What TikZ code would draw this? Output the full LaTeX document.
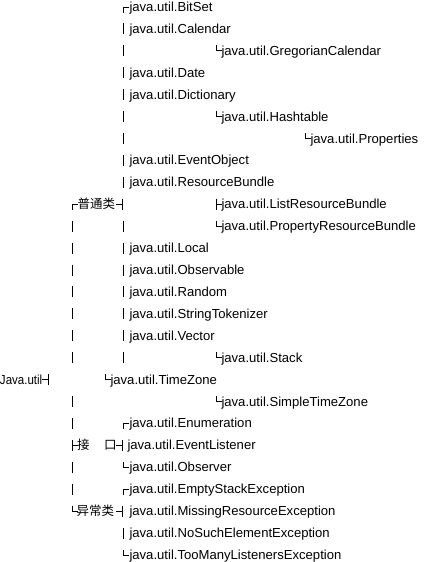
\documentclass[tikz,border=0pt]{standalone}
\usepackage{fontspec}
\setmainfont{Liberation Sans}
\newfontfamily\cjkfont{Noto Sans CJK SC}
\newcommand\jtxt[4]{\node[lbl] (#1) at (#2,{11.5+21.92*#3}) {#4};}
\newcommand\ctxt[4]{\node[cjklbl] (#1) at (#2,{11.5+21.92*#3}) {#4};}
\newcommand\gly[3]{\pic at (#2,{7+21.92*#3}) {#1};}
\tikzset{
  gl/.style={line width=1pt, line cap=butt, black},
  lbl/.style={anchor=base west, inner sep=0pt, outer sep=0pt, font=\fontsize{13.1}{14}\selectfont},
  cjklbl/.style={anchor=base west, inner sep=0pt, outer sep=0pt, font=\cjkfont\fontsize{12.5}{14}\selectfont},
  gbar/.pic={\draw[gl] (0,-5.5) -- (0,5.5);},
  gtopl/.pic={\draw[gl] (5,0) -- (0,0) -- (0,5.5);},
  gbotl/.pic={\draw[gl] (0,-5.5) -- (0,0) -- (5,0);},
  gteel/.pic={\draw[gl] (0,-5.5) -- (0,5.5); \draw[gl] (0,0) -- (5,0);},
  gteer/.pic={\draw[gl] (-6,0) -- (0,0); \draw[gl] (0,-5.5) -- (0,5.5);},
}
\begin{document}
\begin{tikzpicture}[x=1pt,y=-1pt]
\useasboundingbox (0,0) rectangle (423,562);
% column B (x=123.5)
\gly{gtopl}{123.5}{0}
\foreach \r in {1,2,3,4,5,6,7,8,10,11,12,13,14,15,16,24} {\gly{gbar}{123.5}{\r}}
\gly{gtopl}{123.5}{19}
\gly{gbotl}{123.5}{21}
\gly{gtopl}{123.5}{22}
\gly{gbotl}{123.5}{25}
% column A (x=72.5)
\gly{gtopl}{72.5}{9}
\foreach \r in {10,11,12,13,14,15,16,18,19,21,22} {\gly{gbar}{72.5}{\r}}
\gly{gteel}{72.5}{20}
\gly{gbotl}{72.5}{23}
% tee-right after category labels
\gly{gteer}{122}{9}
\gly{gteer}{122}{20}
\gly{gteer}{122}{23}
\gly{gteer}{48}{17}
% column C (x=216.5)
\gly{gbotl}{216.5}{2}
\gly{gbotl}{216.5}{5}
\gly{gteel}{216.5}{9}
\gly{gbotl}{216.5}{10}
\gly{gbotl}{216.5}{16}
\gly{gbotl}{216.5}{18}
% column D and TimeZone
\gly{gbotl}{305.5}{6}
\gly{gbotl}{105.5}{17}
% texts
\jtxt{bitset}{129.5}{0}{java.util.BitSet}
\jtxt{calendar}{129.5}{1}{java.util.Calendar}
\jtxt{gregorian}{221.5}{2}{java.util.GregorianCalendar}
\jtxt{date}{129.5}{3}{java.util.Date}
\jtxt{dictionary}{129.5}{4}{java.util.Dictionary}
\jtxt{hashtable}{221.5}{5}{java.util.Hashtable}
\jtxt{properties}{310.5}{6}{java.util.Properties}
\jtxt{eventobject}{129.5}{7}{java.util.EventObject}
\jtxt{resourcebundle}{129.5}{8}{java.util.ResourceBundle}
\ctxt{general}{77.5}{9}{普通类}
\jtxt{listrb}{221.5}{9}{java.util.ListResourceBundle}
\jtxt{propertyrb}{221.5}{10}{java.util.PropertyResourceBundle}
\jtxt{local}{129.5}{11}{java.util.Local}
\jtxt{observable}{129.5}{12}{java.util.Observable}
\jtxt{random}{129.5}{13}{java.util.Random}
\jtxt{tokenizer}{129.5}{14}{java.util.StringTokenizer}
\jtxt{vector}{129.5}{15}{java.util.Vector}
\jtxt{stack}{221.5}{16}{java.util.Stack}
\jtxt{root}{0}{17}{\scalebox{0.88}[1]{Java.util}}
\jtxt{timezone}{110.5}{17}{java.util.TimeZone}
\jtxt{simpletz}{221.5}{18}{java.util.SimpleTimeZone}
\jtxt{enumeration}{129.5}{19}{java.util.Enumeration}
\ctxt{ifa}{77}{20}{接}
\ctxt{ifb}{104}{20}{口}
\jtxt{eventlistener}{127.5}{20}{java.util.EventListener}
\jtxt{observer}{129.5}{21}{java.util.Observer}
\jtxt{emptystack}{129.5}{22}{java.util.EmptyStackException}
\ctxt{exceptions}{76.5}{23}{异常类}
\jtxt{missingres}{129.5}{23}{java.util.MissingResourceException}
\jtxt{nosuchelem}{129.5}{24}{java.util.NoSuchElementException}
\jtxt{toomany}{129.5}{25}{java.util.TooManyListenersException}
\end{tikzpicture}
\end{document}
